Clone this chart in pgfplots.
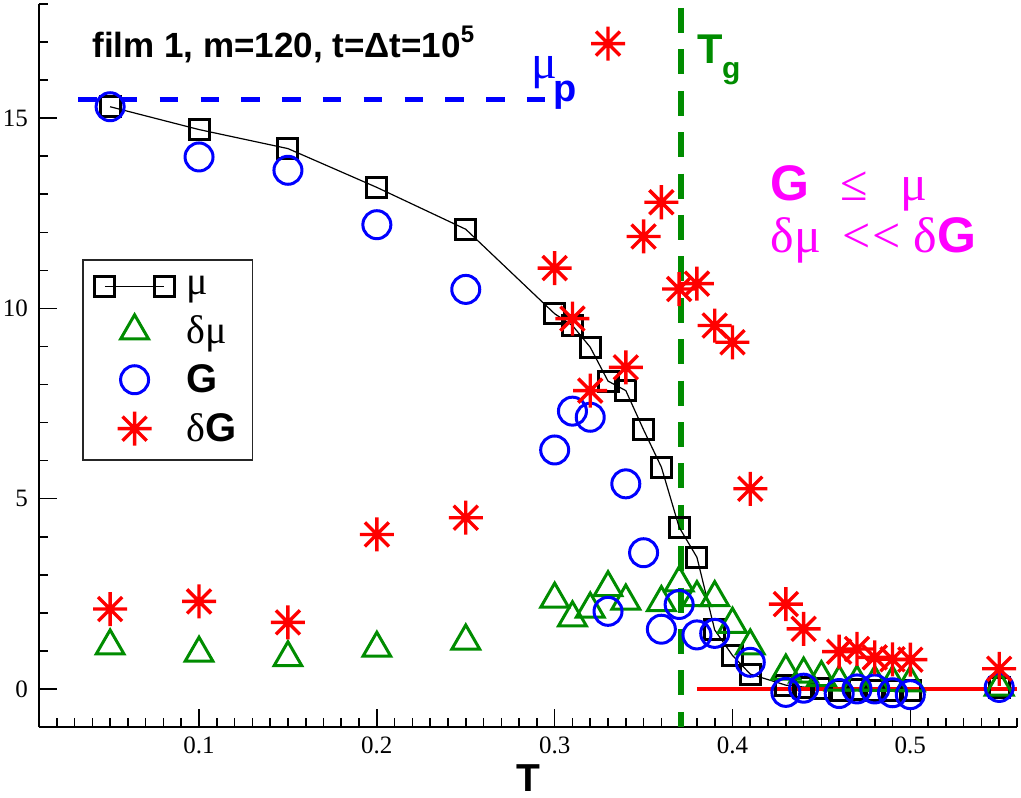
\documentclass[border=0pt]{standalone}
\usepackage{fontspec}
\setmainfont{Liberation Serif}
\newfontfamily\tms{Liberation Serif}[Ligatures=NoCommon]
\newfontfamily\hv{Liberation Sans}
\usepackage{pgfplots}
\pgfplotsset{compat=1.18}
\definecolor{tgreen}{RGB}{0,140,0}
\definecolor{mag}{RGB}{255,0,255}
\pgfdeclareplotmark{ast8}{%
  \pgfpathmoveto{\pgfqpoint{0pt}{\pgfplotmarksize}}%
  \pgfpathlineto{\pgfqpoint{0pt}{-\pgfplotmarksize}}%
  \pgfpathmoveto{\pgfqpoint{\pgfplotmarksize}{0pt}}%
  \pgfpathlineto{\pgfqpoint{-\pgfplotmarksize}{0pt}}%
  \pgfpathmoveto{\pgfqpoint{0.7071\pgfplotmarksize}{0.7071\pgfplotmarksize}}%
  \pgfpathlineto{\pgfqpoint{-0.7071\pgfplotmarksize}{-0.7071\pgfplotmarksize}}%
  \pgfpathmoveto{\pgfqpoint{-0.7071\pgfplotmarksize}{0.7071\pgfplotmarksize}}%
  \pgfpathlineto{\pgfqpoint{0.7071\pgfplotmarksize}{-0.7071\pgfplotmarksize}}%
  \pgfusepathqstroke}
\pgfplotsset{
  legline/.style={legend image code/.code={\draw[##1] plot coordinates {(0pt,0pt) (29.75pt,0pt)};}},
  legmark/.style={legend image code/.code={\draw[##1] plot coordinates {(14.9pt,0pt)};}},
}

\pgfplotstableread{
T mu
0.05 15.3
0.10 14.7
0.15 14.2
0.20 13.18
0.25 12.08
0.30 9.86
0.31 9.55
0.32 8.98
0.33 8.09
0.34 7.84
0.35 6.81
0.36 5.83
0.37 4.25
0.38 3.46
0.39 1.55
0.40 0.88
0.41 0.39
0.43 0.10
0.44 0.05
0.45 0.02
0.46 -0.04
0.47 -0.02
0.48 -0.03
0.49 -0.03
0.50 -0.05
0.55 0.03
}\mutab
\pgfplotstableread{
T dmu
0.05 1.13
0.10 0.94
0.15 0.82
0.20 1.07
0.25 1.26
0.30 2.36
0.31 1.87
0.32 2.10
0.33 2.66
0.34 2.31
0.36 2.27
0.37 2.79
0.38 2.40
0.39 2.40
0.40 1.70
0.41 1.13
0.43 0.47
0.44 0.39
0.45 0.30
0.46 0.18
0.47 0.18
0.48 0.17
0.49 0.17
0.50 0.16
0.55 0.05
}\dmutab
\pgfplotstableread{
T G
0.05 15.3
0.10 13.98
0.15 13.63
0.20 12.2
0.25 10.5
0.30 6.28
0.31 7.3
0.32 7.14
0.33 2.04
0.34 5.39
0.35 3.58
0.36 1.57
0.37 2.22
0.38 1.42
0.39 1.46
0.41 0.70
0.43 -0.09
0.44 0.02
0.46 -0.12
0.47 0.0
0.48 0.0
0.49 -0.1
0.50 -0.15
0.55 0.04
}\Gtab
\pgfplotstableread{
T dG
0.05 2.10
0.10 2.30
0.15 1.75
0.20 4.06
0.25 4.50
0.30 11.06
0.31 9.73
0.32 7.84
0.33 16.96
0.34 8.45
0.35 11.89
0.36 12.79
0.37 10.51
0.38 10.65
0.39 9.55
0.40 9.11
0.41 5.26
0.43 2.23
0.44 1.58
0.46 0.98
0.47 1.05
0.48 0.83
0.49 0.78
0.50 0.77
0.55 0.53
}\dGtab

\begin{document}
\begin{tikzpicture}
\begin{axis}[
  scale only axis, width=489pt, height=361.5pt,
  xmin=0.01, xmax=0.56, ymin=-1, ymax=18,
  axis lines=left, axis line style={-, line width=1pt},
  xtick={0.1,0.2,0.3,0.4,0.5}, ytick={0,5,10,15},
  minor xtick={0.01,0.02,0.03,0.04,0.05,0.06,0.07,0.08,0.09,0.10,0.11,0.12,0.13,0.14,0.15,0.16,0.17,0.18,0.19,0.20,0.21,0.22,0.23,0.24,0.25,0.26,0.27,0.28,0.29,0.30,0.31,0.32,0.33,0.34,0.35,0.36,0.37,0.38,0.39,0.40,0.41,0.42,0.43,0.44,0.45,0.46,0.47,0.48,0.49,0.50,0.51,0.52,0.53,0.54,0.55,0.56},
  minor ytick={-1,0,1,2,3,4,5,6,7,8,9,10,11,12,13,14,15,16,17,18},
  tick align=inside,
  major tick length=9pt, minor tick length=4.5pt,
  tick style={black, line width=0.8pt},
  ticklabel style={font=\tms\fontsize{12.5}{14}\selectfont},
  /pgf/number format/assume math mode=true,
  xticklabel style={/pgf/number format/.cd, fixed, precision=1, /tikz/.cd, yshift=-1.3pt},
  yticklabel style={xshift=-2pt},
  xlabel={T},
  every axis x label/.style={at={(axis description cs:0.5,0)}, anchor=base, yshift=-32pt, inner sep=0pt, font=\hv\bfseries\fontsize{19.5}{20}\selectfont},
  legend style={at={(0.044,0.647)}, anchor=north west, draw=black!85, line width=0.75pt, fill=white,
    font=\tms\fontsize{20}{20}\selectfont, row sep=5pt, inner xsep=6pt, inner ysep=6pt, cells={anchor=west},
    /tikz/every odd column/.append style={column sep=4pt}},
  legend cell align=left,
]
\addplot[tgreen, line width=2.8pt, dash pattern=on 12.5pt off 8.2pt, dash phase=18.7pt, forget plot] coordinates {(0.371,18) (0.371,-1)};
\addplot[blue, line width=2.5pt, dash pattern=on 9.2pt off 11.2pt, forget plot] coordinates {(0.032,15.5) (0.296,15.5)};

\addplot[black, line width=0.6pt, mark=square, mark size=5pt, mark options={line width=1.5pt, solid}, legline] table[x=T,y=mu] {\mutab};
\addlegendentry{μ}
\addplot[only marks, tgreen, mark=triangle, mark size=8pt, mark options={line width=1.5pt}, legmark] table[x=T,y=dmu] {\dmutab};
\addlegendentry{δμ}
\addplot[only marks, blue, mark=o, mark size=7pt, mark options={line width=1.5pt}, legmark] table[x=T,y=G] {\Gtab};
\addlegendentry{{\hv\bfseries G}}
\addplot[only marks, red, mark=ast8, mark size=8.5pt, mark options={line width=1.7pt}, legmark] table[x=T,y=dG] {\dGtab};
\addlegendentry{δ{\hv\bfseries G}}

\addplot[red, line width=1.75pt, forget plot] coordinates {(0.38,0) (0.56,0)};

\node[anchor=base west, inner sep=0pt, font=\hv\bfseries\fontsize{17.5}{20}\selectfont] at (axis cs:0.0398,16.6) {film 1, m=120, t=Δt=10\raisebox{7.5pt}{\fontsize{12}{12}\selectfont 5}};
\node[anchor=base west, inner sep=0pt, text=blue, font=\tms\fontsize{24}{24}\selectfont] at (axis cs:0.287,16.04) {μ};
\node[anchor=base west, inner sep=0pt, text=blue, font=\hv\bfseries\fontsize{19}{19}\selectfont] at (axis cs:0.299,15.44) {p};
\node[anchor=base west, inner sep=0pt, text=tgreen, font=\hv\bfseries\fontsize{20.8}{21}\selectfont] at (axis cs:0.380,16.44) {T};
\node[anchor=base west, inner sep=0pt, text=tgreen, font=\hv\bfseries\fontsize{15}{15}\selectfont] at (axis cs:0.394,16.05) {g};
\node[anchor=base west, inner sep=0pt, text=mag, font=\hv\bfseries\fontsize{25}{25}\selectfont] at (axis cs:0.4213,12.83) {G};
\node[anchor=base west, inner sep=0pt, text=mag, font=\tms\fontsize{25}{25}\selectfont] at (axis cs:0.4607,12.83) {≤};
\node[anchor=base west, inner sep=0pt, text=mag, font=\tms\fontsize{25}{25}\selectfont] at (axis cs:0.4945,12.83) {μ};
\node[anchor=base west, inner sep=0pt, text=mag, font=\tms\fontsize{25}{25}\selectfont] at (axis cs:0.4213,11.48) {δμ};
\node[anchor=base west, inner sep=0pt, text=mag, font=\tms\fontsize{25}{25}\selectfont] at (axis cs:0.4617,11.48) {<\kern1pt<};
\node[anchor=base west, inner sep=0pt, text=mag, font=\tms\fontsize{25}{25}\selectfont] at (axis cs:0.5017,11.48) {δ{\hv\bfseries G}};
\end{axis}
\pgfresetboundingbox
\path ([shift={(-19.5pt,-35pt)}]current axis.south west) rectangle ([shift={(2pt,2pt)}]current axis.north east);
\end{tikzpicture}
\end{document}
